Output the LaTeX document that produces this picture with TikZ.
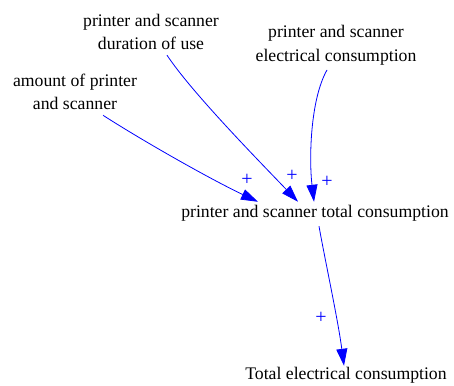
\documentclass[tikz,border=0pt]{standalone}
\usepackage{fontspec}
\setmainfont{Liberation Serif}
\usetikzlibrary{arrows.meta}
\definecolor{linkblue}{RGB}{0,0,255}
\tikzset{
  var/.style={inner sep=0pt, align=center, font=\fontsize{17.7}{23.5}\selectfont},
  link/.style={draw=linkblue, line width=0.8pt, -{Triangle[length=17pt,width=11pt]}},
  pol/.style={text=linkblue, inner sep=0pt, font=\fontsize{20}{22}\selectfont}
}
\begin{document}
\begin{tikzpicture}[x=1pt,y=-1pt]
\useasboundingbox (0,0) rectangle (454,385);
% variables
\node[var] (dur)  at (151,32)  {printer and scanner\\duration of use};
\node[var] (elec) at (336,45)  {printer and scanner\\electrical consumption};
\node[var] (amt)  at (75,92)   {amount of printer\\and scanner};
\node[var] (ptc)  at (315,213) {printer and scanner total consumption};
\node[var] (tec)  at (346,375) {Total electrical consumption};
% causal links
\draw[link] ([shift={(28,5)}]amt.south) .. controls (143,141) and (210,179) .. ([shift={(-57,-3)}]ptc.north);
\draw[link] ([shift={(16,5)}]dur.south) .. controls (192,93) and (262,164) .. ([shift={(-17,-3)}]ptc.north);
\draw[link] ([shift={(-9,5)}]elec.south) .. controls (310,100) and (309,160) .. ([shift={(-1,-3)}]ptc.north);
\draw[link] ([shift={(4,5)}]ptc.south) .. controls (325,260) and (338,320) .. ([shift={(-2,-1)}]tec.north);
% polarities
\node[pol] (p1) at (247,180) {+};
\node[pol] (p2) at (292,176) {+};
\node[pol] (p3) at (327,182) {+};
\node[pol] (p4) at (321,318) {+};
\end{tikzpicture}
\end{document}
